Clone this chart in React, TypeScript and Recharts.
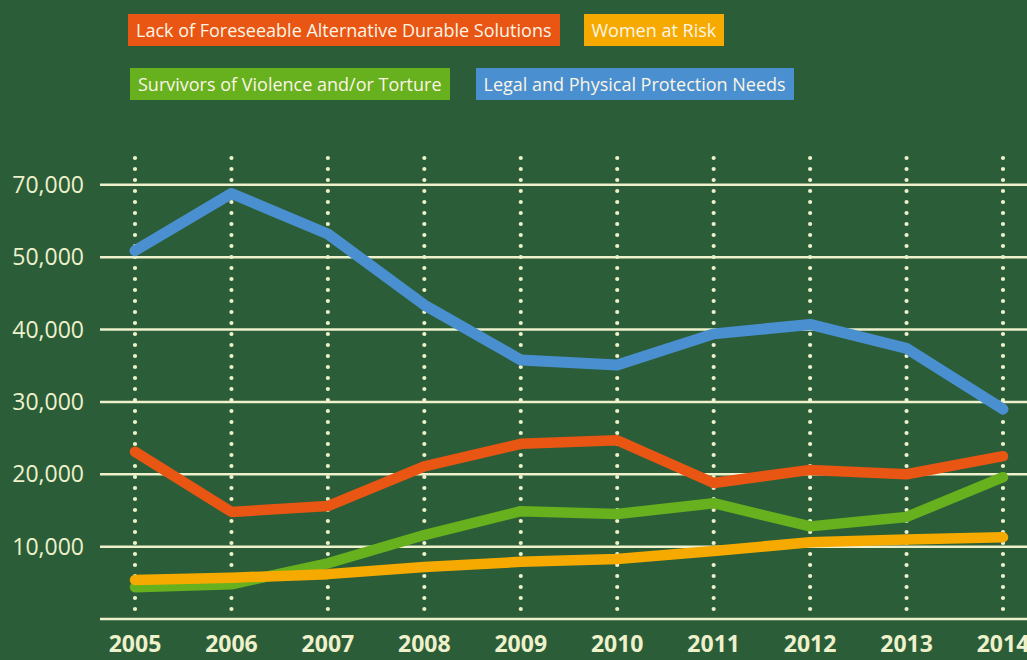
import { CartesianGrid, Line, LineChart, XAxis, YAxis } from "recharts";

const years = ["2005", "2006", "2007", "2008", "2009", "2010", "2011", "2012", "2013", "2014"];
const legalProtection = [50900, 58800, 53200, 43400, 35800, 35100, 39400, 40700, 37400, 29000];
const durableSolutions = [23100, 14800, 15600, 21100, 24200, 24700, 18800, 20600, 20000, 22500];
const survivors = [4400, 4800, 7700, 11600, 14900, 14500, 16000, 12800, 14100, 19600];
const womenAtRisk = [5400, 5700, 6200, 7200, 7900, 8300, 9400, 10600, 11000, 11300];

const yTicks = [0, 10000, 20000, 30000, 40000, 50000, 60000];
const yTickLabels = ["", "10,000", "20,000", "30,000", "40,000", "50,000", "70,000"];

const BG = "#2b5e38";
const CREAM = "#eef1cc";
const FONT = "'Open Sans', Lato, sans-serif";

const seriesInfo = [
  { key: "durable", name: "Lack of Foreseeable Alternative Durable Solutions", color: "#e95513" },
  { key: "women", name: "Women at Risk", color: "#f6aa00" },
  { key: "survivors", name: "Survivors of Violence and/or Torture", color: "#67b01e" },
  { key: "legal", name: "Legal and Physical Protection Needs", color: "#4a90d0" },
];

const data = years.map((year, i) => ({
  year,
  legal: legalProtection[i],
  durable: durableSolutions[i],
  survivors: survivors[i],
  women: womenAtRisk[i],
}));

function LegendBox({ item }: { item: (typeof seriesInfo)[number] }) {
  return (
    <div
      style={{
        background: item.color,
        color: "#fbf5e6",
        height: 32,
        lineHeight: "32px",
        padding: "0 8px",
        fontSize: 18,
        whiteSpace: "nowrap",
      }}
    >
      {item.name}
    </div>
  );
}

function ChartLegend() {
  return (
    <>
      <div style={{ position: "absolute", left: 128, top: 14, display: "flex", gap: 24 }}>
        <LegendBox item={seriesInfo[0]} />
        <LegendBox item={seriesInfo[1]} />
      </div>
      <div style={{ position: "absolute", left: 130, top: 68, display: "flex", gap: 26 }}>
        <LegendBox item={seriesInfo[2]} />
        <LegendBox item={seriesInfo[3]} />
      </div>
    </>
  );
}

// vertical grid drawn as round dots
function DottedLine(props: any) {
  const { x1, y1, x2, y2 } = props;
  return (
    <line
      x1={x1}
      y1={y1}
      x2={x2}
      y2={y2}
      stroke={CREAM}
      strokeWidth={4.2}
      strokeDasharray="0 11"
      strokeLinecap="round"
    />
  );
}

export default function App() {
  return (
    <div
      style={{
        position: "absolute",
        left: 0,
        top: 0,
        width: 1027,
        height: 660,
        background: BG,
        overflow: "hidden",
        fontFamily: FONT,
      }}
    >
      <LineChart width={1027} height={660} data={data} margin={{ top: 158, right: 0, bottom: 0, left: 0 }}>
        <CartesianGrid horizontal={false} vertical={DottedLine} verticalValues={years} />
        <CartesianGrid vertical={false} stroke={CREAM} strokeWidth={2.5} horizontalValues={yTicks} />
        <XAxis
          dataKey="year"
          axisLine={false}
          tickLine={false}
          padding={{ left: 35, right: 24 }}
          interval={0}
          tickMargin={11}
          height={41}
          tick={{ fill: CREAM, fontSize: 23, fontWeight: 700, fontFamily: FONT }}
        />
        <YAxis
          type="number"
          domain={[0, 63700]}
          ticks={yTicks}
          allowDataOverflow
          axisLine={false}
          tickLine={false}
          width={100}
          tickMargin={10}
          tick={{ fill: CREAM, fontSize: 23, fontFamily: FONT }}
          tickFormatter={(v: number) => yTickLabels[yTicks.indexOf(v)] ?? ""}
        />
        <Line
          dataKey="legal"
          name={seriesInfo[3].name}
          stroke={seriesInfo[3].color}
          strokeWidth={11}
          strokeLinecap="round"
          strokeLinejoin="round"
          dot={false}
          isAnimationActive={false}
        />
        <Line
          dataKey="durable"
          name={seriesInfo[0].name}
          stroke={seriesInfo[0].color}
          strokeWidth={10.5}
          strokeLinecap="round"
          strokeLinejoin="round"
          dot={false}
          isAnimationActive={false}
        />
        <Line
          dataKey="survivors"
          name={seriesInfo[2].name}
          stroke={seriesInfo[2].color}
          strokeWidth={10.5}
          strokeLinecap="round"
          strokeLinejoin="round"
          dot={false}
          isAnimationActive={false}
        />
        <Line
          dataKey="women"
          name={seriesInfo[1].name}
          stroke={seriesInfo[1].color}
          strokeWidth={10.5}
          strokeLinecap="round"
          strokeLinejoin="round"
          dot={false}
          isAnimationActive={false}
        />
      </LineChart>
      <ChartLegend />
    </div>
  );
}
